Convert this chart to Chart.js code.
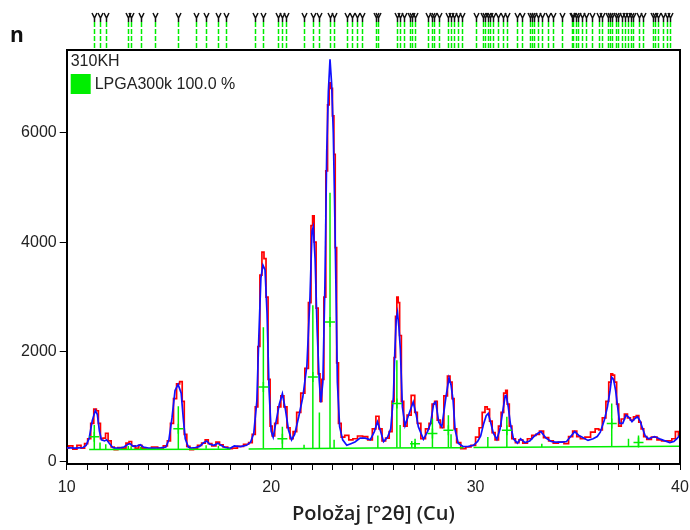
<!DOCTYPE html>
<html>
<head>
<meta charset="utf-8">
<style>
  html, body { margin: 0; padding: 0; background: #fff; }
  canvas { display: block; }
</style>
</head>
<body>
<canvas id="chart" width="690" height="530"></canvas>
<script src="https://cdn.jsdelivr.net/npm/chart.js"></script>
<script>
  // 2θ grid, calculated (blue) and observed (red) counts
  const twoTheta = [
    10.0, 10.2, 10.4, 10.6, 10.8, 10.95, 11.1, 11.25, 11.4, 11.5, 11.6, 11.7, 11.85, 11.95, 12.1, 12.25, 12.4, 12.6, 12.8,
    13.0, 13.1, 13.25, 13.45, 13.6, 13.75, 14.0, 14.3, 14.6, 14.85, 15.0, 15.15, 15.3, 15.45, 15.6, 15.7, 15.8, 15.95,
    16.1, 16.3, 16.5, 16.7, 16.85, 17.0, 17.2, 17.4, 17.55, 17.75, 18.0, 18.2, 18.5, 18.8, 19.0, 19.15, 19.3, 19.4, 19.5,
    19.6, 19.7, 19.8, 19.9, 20.0, 20.1, 20.25, 20.4, 20.55, 20.7, 20.85, 21.0, 21.15, 21.35, 21.55, 21.75, 21.9, 22.0,
    22.06, 22.15, 22.25, 22.35, 22.43, 22.53, 22.63, 22.72, 22.8, 22.88, 22.96, 23.04, 23.1, 23.17, 23.24, 23.35, 23.5,
    23.7, 23.9, 24.1, 24.35, 24.6, 24.85, 25.05, 25.2, 25.35, 25.5, 25.7, 25.85, 25.98, 26.05, 26.12, 26.18, 26.25, 26.32,
    26.42, 26.55, 26.75, 26.95, 27.1, 27.2, 27.45, 27.65, 27.8, 27.95, 28.05, 28.2, 28.35, 28.55, 28.7, 28.8, 28.9, 29.0,
    29.15, 29.4, 29.65, 29.9, 30.1, 30.25, 30.4, 30.52, 30.62, 30.75, 30.87, 31.04, 31.2, 31.3, 31.45, 31.5, 31.6, 31.7,
    31.85, 32.05, 32.2, 32.42, 32.65, 32.85, 33.05, 33.2, 33.45, 33.7, 33.9, 34.2, 34.45, 34.65, 34.85, 35.05, 35.2, 35.5,
    35.75, 35.95, 36.1, 36.3, 36.45, 36.58, 36.66, 36.75, 36.85, 36.95, 37.05, 37.2, 37.36, 37.5, 37.65, 37.8, 37.92,
    38.05, 38.15, 38.3, 38.45, 38.75, 39.0, 39.2, 39.5, 39.7, 39.85, 40.0
  ];
  const calculated = [
    255, 255, 250, 255, 260, 300, 430, 750, 935, 860, 560, 400, 380, 400, 330, 260, 250, 250, 270,
    320, 330, 280, 290, 310, 270, 250, 250, 255, 270, 400, 800, 1300, 1410, 1250, 800, 420, 270,
    250, 260, 280, 350, 380, 320, 300, 340, 300, 260, 245, 290, 275, 300, 360, 520, 1100, 2300, 3350,
    3580, 3500, 2700, 1300, 560, 450, 750, 1050, 1240, 950, 580, 400, 500, 820, 1180, 1750, 3000, 4200,
    4280, 3700, 2400, 1500, 1080, 1450, 3200, 5650, 6750, 7330, 6880, 6000, 4800, 3200, 1450, 640, 400,
    300, 330, 360, 430, 430, 400, 550, 730, 560, 370, 450, 600, 1180, 2000, 2600, 2720, 2450, 2050,
    1000, 660, 880, 1090, 850, 640, 410, 550, 700, 1060, 1090, 720, 640, 1180, 1530, 1400, 1120, 580,
    340, 275, 280, 300, 370, 470, 700, 840, 880, 700, 520, 410, 600, 850, 1200, 1210, 1000, 700,
    420, 340, 420, 350, 380, 460, 520, 550, 430, 370, 360, 360, 370, 460, 550, 480, 450, 390,
    420, 460, 540, 760, 1000, 1300, 1540, 1500, 1300, 1000, 700, 700, 850, 810, 730, 790, 820,
    740, 630, 470, 420, 460, 420, 390, 350, 370, 420, 490
  ];
  const observed = [
    250, 290, 230, 300, 250, 330, 420, 700, 960, 930, 700, 420, 430, 520, 380, 270, 220, 260, 250,
    340, 370, 290, 250, 300, 250, 230, 270, 250, 290, 380, 700, 1150, 1420, 1460, 1100, 500, 280,
    220, 250, 300, 340, 400, 330, 290, 360, 310, 270, 240, 250, 280, 320, 350, 500, 1000, 2100, 3400,
    3820, 3700, 3000, 1500, 650, 470, 700, 1000, 1200, 1000, 620, 420, 550, 900, 1250, 1700, 2900, 4300,
    4480, 4000, 2800, 1600, 1100, 1500, 3000, 5300, 6500, 6900, 6800, 6300, 5600, 3900, 1800, 700, 450,
    480, 400, 420, 470, 460, 400, 600, 830, 600, 380, 430, 550, 1100, 1900, 2650, 3000, 2900, 2300,
    1100, 650, 850, 1210, 900, 700, 420, 600, 700, 1050, 1100, 760, 620, 1200, 1560, 1450, 1150, 600,
    350, 240, 270, 300, 450, 620, 900, 1000, 960, 740, 530, 400, 650, 900, 1250, 1300, 1050, 650,
    420, 350, 400, 340, 420, 480, 500, 560, 440, 380, 340, 360, 330, 460, 560, 460, 420, 450,
    540, 600, 580, 800, 1100, 1450, 1600, 1580, 1450, 1050, 650, 780, 870, 800, 760, 820, 840,
    720, 600, 460, 410, 450, 400, 380, 380, 420, 550, 480
  ];

  // LPGA300k reflections (green sticks) inside the plot
  const stickPos    = [11.35, 11.63, 11.91, 13.01, 13.15, 13.62, 15.46, 16.82, 17.42, 19.62, 20.55, 21.61, 22.04, 22.36,
                       22.88, 23.08, 25.22, 26.15, 26.31, 26.88, 27.04, 27.89, 28.67, 28.80, 30.60, 31.53, 33.24,
                       36.66, 37.48, 37.97];
  const stickHeight = [670, 350, 320, 290, 280, 270, 1010, 300, 290, 2450, 640, 310, 2850, 900,
                       4900, 400, 480, 1850, 670, 380, 360, 790, 850, 500, 450, 820, 330,
                       1060, 420, 480];
  const crossPos    = [11.35, 15.46, 19.62, 20.55, 22.04, 22.88, 26.15, 27.04, 27.89, 28.67, 31.53, 36.66, 37.97];
  const crossHeight = [455, 600, 1364, 420, 1545, 2545, 1060, 330, 515, 576, 576, 697, 350];
  const baseX = [11.1, 18.0, NaN, 18.9, 25.0, 29.4, NaN, 29.9, 40.0];
  const baseY = [225, 228, NaN, 232, 250, 258, NaN, 262, 285];

  // reference line positions shown above the plot
  const refPos = [
    11.35, 11.63, 11.91, 13.01, 13.15, 13.62, 14.33, 15.46, 16.33, 16.82, 17.42, 17.78, 19.21, 19.62, 20.32, 20.52,
    20.73, 21.61, 22.04, 22.36, 22.88, 23.08, 23.70, 23.94, 24.19, 24.43, 25.12, 25.22, 26.15, 26.31, 26.52, 26.80,
    26.88, 27.04, 27.66, 27.89, 27.99, 28.23, 28.67, 28.80, 28.96, 29.16, 29.32, 30.01, 30.38, 30.46, 30.60, 30.71,
    30.87, 31.12, 31.36, 31.53, 32.02, 32.26, 32.67, 32.75, 32.86, 33.04, 33.24, 33.56, 33.81, 34.22, 34.71, 34.79,
    34.90, 35.03, 35.22, 35.39, 35.68, 36.04, 36.17, 36.50, 36.58, 36.66, 36.86, 36.99, 37.15, 37.31, 37.48, 37.61,
    37.68, 37.97, 38.21, 38.70, 38.78, 38.94, 39.19, 39.36, 39.52
  ];

  const xTicks = [10, 20, 30, 40];
  const yTicks = [0, 2000, 4000, 6000];

  const GREEN = '#00ee00';
  const FONT = '"Liberation Sans", Arial, sans-serif';

  const pts = (xs, ys) => xs.map((x, i) => ({ x: x, y: ys[i] }));
  const sticks = [];
  stickPos.forEach((p, i) => {
    const base = 225 + (p - 11) * 2;
    sticks.push({ x: p, y: base }, { x: p, y: stickHeight[i] }, { x: p, y: NaN });
  });

  const framePlugin = {
    id: 'frame',
    afterDraw(chart) {
      const ctx = chart.ctx;
      const a = chart.chartArea;
      const xs = chart.scales.x;
      ctx.save();
      // top and right border
      ctx.strokeStyle = '#000';
      ctx.lineWidth = 2;
      ctx.beginPath();
      ctx.moveTo(a.left, a.top);
      ctx.lineTo(a.right, a.top);
      ctx.lineTo(a.right, a.bottom);
      ctx.stroke();

      // reference markers above the plot
      refPos.forEach(p => {
        const x = Math.round(xs.getPixelForValue(p)) + 0.5;
        ctx.strokeStyle = GREEN;
        ctx.lineWidth = 1.5;
        ctx.setLineDash([5, 2]);
        ctx.beginPath();
        ctx.moveTo(x, 22);
        ctx.lineTo(x, a.top - 1);
        ctx.stroke();
        ctx.setLineDash([]);
        ctx.strokeStyle = '#111';
        ctx.lineWidth = 1.5;
        ctx.beginPath();
        ctx.moveTo(x - 2.5, 13);
        ctx.lineTo(x, 18);
        ctx.lineTo(x + 2.5, 13);
        ctx.moveTo(x, 18);
        ctx.lineTo(x, 22);
        ctx.stroke();
      });

      // axis label "n"
      ctx.fillStyle = '#111';
      ctx.font = 'bold 21px "Open Sans", sans-serif';
      ctx.textBaseline = 'alphabetic';
      ctx.textAlign = 'left';
      ctx.fillText('n', 10, 42);

      // legend in plot
      ctx.font = '16px ' + FONT;
      ctx.fillStyle = '#222';
      ctx.textBaseline = 'middle';
      ctx.fillText('310KH', a.left + 4, a.top + 12);
      ctx.fillStyle = GREEN;
      ctx.fillRect(a.left + 4, a.top + 24, 20, 20);
      ctx.fillStyle = '#222';
      ctx.fillText('LPGA300k 100.0 %', a.left + 28, a.top + 35);
      ctx.restore();
    }
  };

  const ctx = document.getElementById('chart').getContext('2d');
  new Chart(ctx, {
    type: 'line',
    data: {
      datasets: [
        { label: 'cross', data: pts(crossPos, crossHeight), showLine: false, pointStyle: 'cross',
          pointRadius: 5, borderColor: GREEN, borderWidth: 1.5, order: 0 },
        { label: 'sticks', data: sticks, borderColor: GREEN, borderWidth: 1.5, pointRadius: 0,
          spanGaps: false, order: 1 },
        { label: 'base', data: pts(baseX, baseY), borderColor: GREEN, borderWidth: 1.5, pointRadius: 0,
          spanGaps: false, order: 2 },
        { label: 'calculated', data: pts(twoTheta, calculated), borderColor: '#1010ff', borderWidth: 1.7,
          pointRadius: 0, tension: 0, order: 3 },
        { label: 'observed', data: pts(twoTheta, observed), borderColor: '#ff0000', borderWidth: 1.7,
          pointRadius: 0, tension: 0, stepped: 'middle', order: 4 }
      ]
    },
    options: {
      responsive: false,
      animation: false,
      layout: { padding: { left: 4, right: 10, top: 50, bottom: 0 } },
      plugins: { legend: { display: false }, tooltip: { enabled: false } },
      scales: {
        x: {
          type: 'linear',
          min: 10,
          max: 40,
          ticks: {
            stepSize: 1,
            autoSkip: false,
            maxRotation: 0,
            padding: 8,
            color: '#222',
            font: { family: FONT, size: 16 },
            callback: v => xTicks.includes(v) ? String(v) : ''
          },
          grid: { drawOnChartArea: false, color: '#000', tickLength: 6 },
          border: { color: '#000', width: 2 },
          title: {
            display: true,
            text: 'Položaj [°2θ] (Cu)',
            color: '#222',
            font: { family: '"Open Sans", sans-serif', size: 20, weight: '600' },
            padding: { top: 2, bottom: 4 }
          },
          afterFit(scale) {
            scale.height = 66;
            scale.paddingLeft = 0;
            scale.paddingRight = 0;
          }
        },
        y: {
          min: -40,
          max: 7500,
          ticks: {
            padding: 3,
            color: '#222',
            font: { family: FONT, size: 16 },
            callback: v => String(v)
          },
          afterBuildTicks(scale) { scale.ticks = yTicks.map(v => ({ value: v })); },
          grid: { drawOnChartArea: false, color: '#000', tickLength: 7 },
          border: { color: '#000', width: 2 },
          afterFit(scale) { scale.width = 62.7; }
        }
      }
    },
    plugins: [framePlugin]
  });
</script>
</body>
</html>
